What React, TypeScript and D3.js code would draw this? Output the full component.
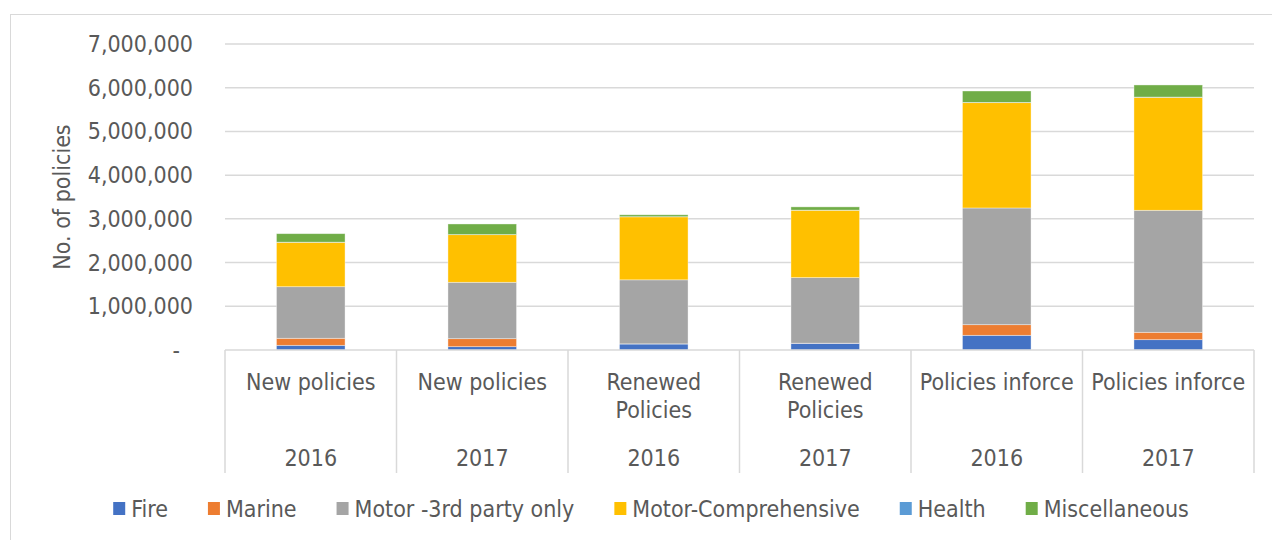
import { useMemo } from 'react';
import * as d3 from 'd3';

const groups = ['New policies', 'New policies', 'Renewed Policies', 'Renewed Policies', 'Policies inforce', 'Policies inforce'];
const years = ['2016', '2017', '2016', '2017', '2016', '2017'];

const seriesNames = ['Fire', 'Marine', 'Motor -3rd party only', 'Motor-Comprehensive', 'Health', 'Miscellaneous'];
const seriesColors = ['#4472C4', '#ED7D31', '#A5A5A5', '#FFC000', '#5B9BD5', '#70AD47'];

const fire = [107000, 76000, 137000, 153000, 336000, 236000];
const marine = [161000, 183000, 4000, 3000, 243000, 169000];
const motorThird = [1180000, 1290000, 1464000, 1500000, 2670000, 2791000];
const motorComp = [1016000, 1089000, 1442000, 1542000, 2409000, 2585000];
const health = [3000, 2000, 2000, 2000, 6000, 5000];
const misc = [194000, 243000, 44000, 74000, 261000, 277000];

const yTicks = [0, 1000000, 2000000, 3000000, 4000000, 5000000, 6000000, 7000000];

const FONT = '"DejaVu Sans Condensed", "Liberation Sans", Arial, sans-serif';
const FS = 23;
const TEXT = '#595959';
const GRID = '#d9d9d9';

function measure(text: string) {
  const ctx = document.createElement('canvas').getContext('2d');
  if (!ctx) return text.length * FS * 0.5;
  ctx.font = `${FS}px ${FONT}`;
  return ctx.measureText(text).width;
}

function wrap(text: string, maxWidth: number) {
  if (measure(text) <= maxWidth) return [text];
  return text.split(' ');
}

export default function App() {
  const width = 1272;
  const height = 540;
  const plot = { left: 225, right: 1254, top: 44, bottom: 350 };

  const x = d3
    .scaleBand<number>()
    .domain(d3.range(groups.length))
    .range([plot.left, plot.right])
    .paddingInner(0.6)
    .paddingOuter(0.3);
  const step = x.step();
  const y = d3.scaleLinear().domain([0, 7000000]).range([plot.bottom, plot.top]);
  const fmt = d3.format(',');

  const stacked = useMemo(() => {
    const values = [fire, marine, motorThird, motorComp, health, misc];
    const rows = groups.map((_, i) => {
      const row: Record<string, number> = {};
      seriesNames.forEach((name, s) => (row[name] = values[s][i]));
      return row;
    });
    return d3.stack<Record<string, number>>().keys(seriesNames)(rows);
  }, []);

  // boundaries of the category cells
  const bounds = d3.range(groups.length + 1).map((i) => plot.left + i * step);

  const legend = useMemo(() => {
    const box = 12;
    const gapText = 6;
    const gapItem = 40;
    const widths = seriesNames.map((n) => measure(n));
    const total = d3.sum(widths) + seriesNames.length * (box + gapText) + (seriesNames.length - 1) * gapItem;
    let cx = 651 - total / 2;
    return seriesNames.map((name, i) => {
      const item = { name, color: seriesColors[i], x: cx };
      cx += box + gapText + widths[i] + gapItem;
      return item;
    });
  }, []);

  return (
    <svg width={width} height={height} style={{ position: 'absolute', left: 0, top: 0, fontFamily: FONT }}>
      <rect x={0} y={0} width={width} height={height} fill="#fff" />
      <rect x={10.5} y={14.5} width={1270} height={540} fill="none" stroke={GRID} strokeWidth={1} />

      {yTicks.slice(1).map((t) => (
        <line key={t} x1={plot.left} x2={plot.right} y1={y(t)} y2={y(t)} stroke={GRID} strokeWidth={1.5} />
      ))}

      {yTicks.map((t) => (
        <text
          key={t}
          x={t === 0 ? 180 : 193}
          y={y(t)}
          dy="0.35em"
          textAnchor="end"
          fontSize={FS}
          fill={TEXT}
        >
          {t === 0 ? '-' : fmt(t)}
        </text>
      ))}

      <text
        transform={`translate(70, ${(plot.top + plot.bottom) / 2}) rotate(-90)`}
        textAnchor="middle"
        fontSize={FS}
        fill={TEXT}
      >
        No. of policies
      </text>

      {stacked.map((layer, s) =>
        layer.map((d, i) => (
          <rect
            key={`${s}-${i}`}
            x={x(i)}
            y={y(d[1])}
            width={x.bandwidth()}
            height={Math.max(0, y(d[0]) - y(d[1]))}
            fill={seriesColors[s]}
            stroke="#ffffff"
            strokeOpacity={0.5}
            strokeWidth={0.75}
          />
        ))
      )}

      {/* category axis */}
      <line x1={plot.left} x2={plot.right} y1={plot.bottom} y2={plot.bottom} stroke={GRID} strokeWidth={1.5} />
      {bounds.map((bx, i) => (
        <line key={i} x1={bx} x2={bx} y1={plot.bottom} y2={473} stroke={GRID} strokeWidth={1.5} />
      ))}
      {groups.map((g, i) => {
        const cx = (x(i) ?? 0) + x.bandwidth() / 2;
        const lines = wrap(g, step - 4);
        return (
          <g key={i}>
            {lines.map((ln, k) => (
              <text key={k} x={cx} y={390 + k * 28} textAnchor="middle" fontSize={FS} fill={TEXT}>
                {ln}
              </text>
            ))}
            <text x={cx} y={466} textAnchor="middle" fontSize={FS} fill={TEXT}>
              {years[i]}
            </text>
          </g>
        );
      })}

      {legend.map((item) => (
        <g key={item.name}>
          <rect x={item.x} y={502} width={12} height={13} fill={item.color} />
          <text x={item.x + 18} y={516.5} fontSize={FS} fill={TEXT}>
            {item.name}
          </text>
        </g>
      ))}
    </svg>
  );
}
